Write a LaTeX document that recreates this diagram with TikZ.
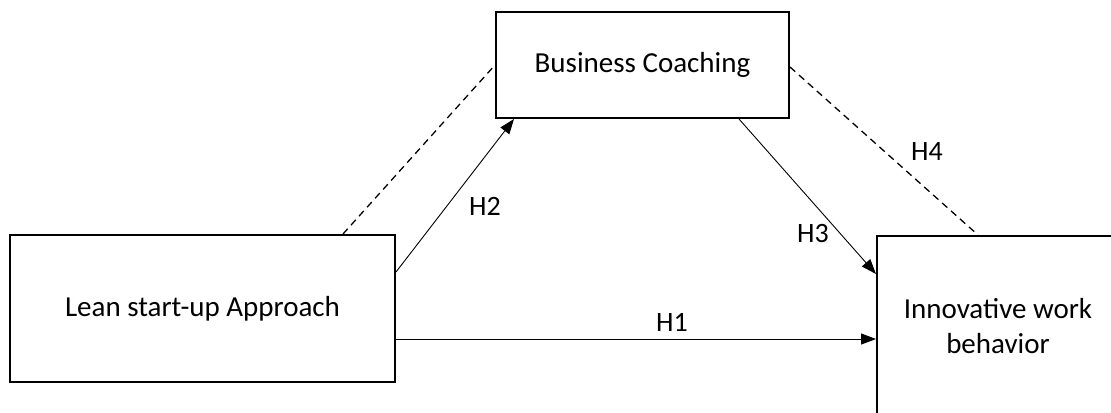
\documentclass[tikz,border=0pt]{standalone}
\usepackage{fontspec}
\setmainfont{Carlito}
\usetikzlibrary{arrows.meta,calc}
\tikzset{
  box/.style={draw=black, line width=2bp, fill=white, inner sep=0pt, align=center,
    font=\fontsize{29bp}{35bp}\selectfont},
  arr/.style={line width=0.9bp, -{Triangle[length=15bp,width=11bp]}},
  dsh/.style={line width=1.3bp, dash pattern=on 7bp off 5bp},
  hlab/.style={font=\fontsize{28bp}{35bp}\selectfont, inner sep=0pt, anchor=base}
}
\begin{document}
\begin{tikzpicture}[x=1bp,y=-1bp]
\useasboundingbox (0,0) rectangle (1111,412);
\clip (0,0) rectangle (1111,412);
\node[box, minimum width=385bp, minimum height=147bp] (lean) at (202.5,308.5) {Lean start-up Approach};
\node[box, minimum width=293bp, minimum height=106bp] (biz) at (642.5,65) {Business Coaching};
\node[box, minimum width=242bp, minimum height=180bp] (innov) at (998,326) {Innovative work\\behavior};
% dashed lines
\draw[dsh] ([xshift=140.5bp]lean.north) -- (biz.west);
\draw[dsh] ([yshift=-2bp]biz.east) -- ([xshift=-20bp]innov.north);
% arrows
\draw[arr] ([yshift=36.5bp]lean.east) -- ([xshift=-128.5bp]biz.south);
\draw[arr] ([xshift=96.5bp]biz.south) -- ([yshift=52bp]innov.west);
\coordinate (h1s) at ([yshift=-30.5bp]lean.east);
\draw[arr] (h1s) -- (h1s -| innov.west);
% labels
\node[hlab] (lh1) at (672,331) {H1};
\node[hlab] (lh2) at (485,215) {H2};
\node[hlab] (lh3) at (813,242) {H3};
\node[hlab] (lh4) at (927,160) {H4};
\end{tikzpicture}
\end{document}
